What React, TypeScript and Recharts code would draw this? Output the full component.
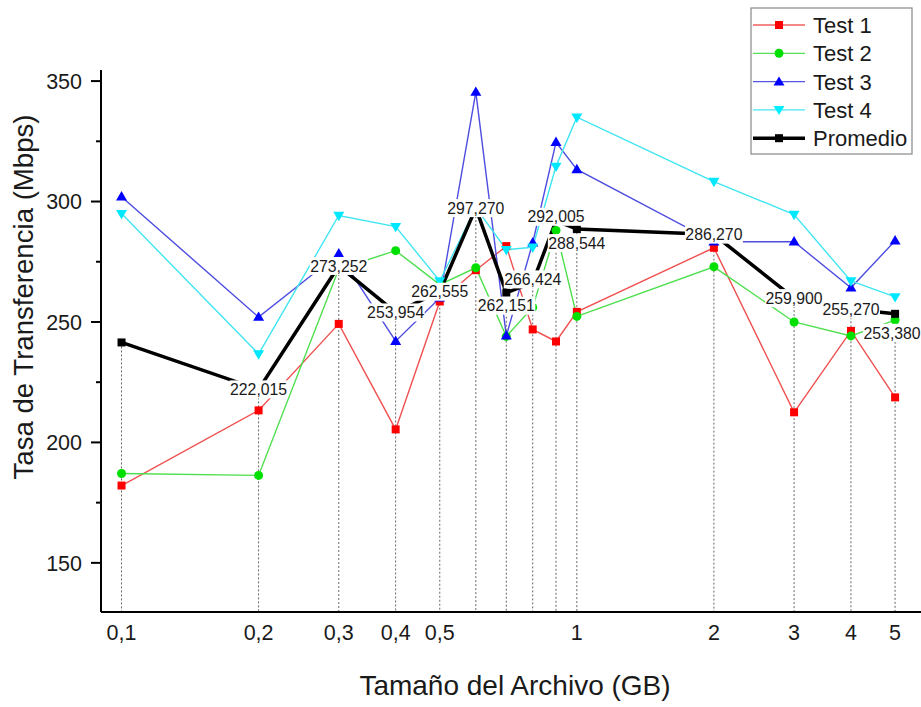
import { LineChart, Line, XAxis, YAxis } from "recharts"

// file sizes in GB (log axis)
const sizes = [0.1, 0.2, 0.3, 0.4, 0.5, 0.6, 0.7, 0.8, 0.9, 1, 2, 3, 4, 5]

const test1 = [182.1, 213.3, 249.2, 205.4, 258.5, 271.5, 281.5, 246.9, 241.9, 254.2, 280.8, 212.5, 246.3, 218.7]
const test2 = [187.1, 186.3, 272.0, 279.6, 265.5, 272.5, 244.0, 256.0, 288.0, 252.3, 272.9, 250.0, 244.2, 250.8]
const test3 = [302.0, 252.0, 278.3, 242.0, 260.0, 345.4, 244.2, 282.9, 324.6, 313.3, 283.3, 283.3, 264.2, 283.7]
const test4 = [295.0, 236.7, 294.2, 289.6, 267.0, 297.5, 280.0, 281.0, 314.6, 335.0, 308.3, 294.6, 267.0, 260.4]
const promedio = [241.5, 222.015, 273.252, 253.954, 262.555, 297.27, 262.151, 266.424, 292.005, 288.544, 286.27, 259.9, 255.27, 253.38]

const xTicks = [0.1, 0.2, 0.3, 0.4, 0.5, 1, 2, 3, 4, 5]
const yTicks = [150, 175, 200, 225, 250, 275, 300, 325, 350]

const data = sizes.map((x, i) => ({
  x,
  t1: test1[i],
  t2: test2[i],
  t3: test3[i],
  t4: test4[i],
  avg: promedio[i],
}))

const W = 921
const H = 707
const PLOT_BOTTOM = 612
const FONT = '"Liberation Sans", Arial, sans-serif'

// nudges for labels that were moved off their point in the original
const labelShift: Record<number, [number, number]> = {
  6: [0, 13],
  7: [0, -3],
  8: [0, -4],
  9: [0, 14],
  13: [-3, 19],
}

const fmt = (v: number) => v.toFixed(3).replace(".", ",")

const square = (color: string, s = 8) => (p: any) => {
  if (p.cx == null || p.cy == null) return <g key={p.index} />
  return <rect key={p.index} x={p.cx - s / 2} y={p.cy - s / 2} width={s} height={s} fill={color} />
}

const circle = (color: string, r = 4.5) => (p: any) => {
  if (p.cx == null || p.cy == null) return <g key={p.index} />
  return <circle key={p.index} cx={p.cx} cy={p.cy} r={r} fill={color} />
}

const triangle = (color: string, up: boolean, s = 11) => (p: any) => {
  if (p.cx == null || p.cy == null) return <g key={p.index} />
  const h = s * 0.85
  const pts = up
    ? `${p.cx},${p.cy - h / 2 - 1} ${p.cx - s / 2},${p.cy + h / 2 - 1} ${p.cx + s / 2},${p.cy + h / 2 - 1}`
    : `${p.cx},${p.cy + h / 2 + 1} ${p.cx - s / 2},${p.cy - h / 2 + 1} ${p.cx + s / 2},${p.cy - h / 2 + 1}`
  return <polygon key={p.index} points={pts} fill={color} />
}

const dropLine = (p: any) => {
  if (p.cx == null || p.cy == null) return <g key={p.index} />
  return (
    <line key={p.index} x1={p.cx} x2={p.cx} y1={p.cy} y2={PLOT_BOTTOM - 1}
      stroke="#666" strokeWidth={1} strokeDasharray="2 2" />
  )
}

const avgLabel = (p: any) => {
  if (p.cx == null || p.cy == null || p.index === 0) return <g key={p.index} />
  const text = fmt(p.value)
  const [dx, dy] = labelShift[p.index] ?? [0, 0]
  const w = 58
  const x = p.cx + dx
  const y = p.cy + dy
  return (
    <g key={p.index}>
      <rect x={x - w / 2} y={y - 9} width={w} height={18} fill="#fff" />
      <text x={x} y={y} dy="0.36em" textAnchor="middle" fontSize={15.8} fill="#1a1a1a" fontFamily={FONT}>
        {text}
      </text>
    </g>
  )
}

const YTick = (props: any) => {
  const { x, y, payload } = props
  const major = payload.value % 50 === 0
  return (
    <g>
      <line x1={x} x2={x - (major ? 10 : 5)} y1={y} y2={y} stroke="#000" strokeWidth={2} />
      {major && (
        <text x={x - 19} y={y} dy="0.36em" textAnchor="end" fontSize={21.5} fill="#1a1a1a" fontFamily={FONT}>
          {payload.value}
        </text>
      )}
    </g>
  )
}

const XTick = (props: any) => {
  const { x, y, payload } = props
  return (
    <text x={x} y={y + 28} textAnchor="middle" fontSize={21.5} fill="#1a1a1a" fontFamily={FONT}>
      {String(payload.value).replace(".", ",")}
    </text>
  )
}

const legendItems = [
  { name: "Test 1", color: "#ff0000", line: "#f06060", width: 1.3, shape: "square" },
  { name: "Test 2", color: "#00e000", line: "#55e055", width: 1.3, shape: "circle" },
  { name: "Test 3", color: "#0000ff", line: "#5555e5", width: 1.3, shape: "up" },
  { name: "Test 4", color: "#00eeff", line: "#44e8f5", width: 1.3, shape: "down" },
  { name: "Promedio", color: "#000", line: "#000", width: 3.5, shape: "square" },
]

function Legend() {
  return (
    <svg width={163} height={148} style={{ position: "absolute", left: 750, top: 7 }}>
      <rect x={1} y={1} width={161} height={146} fill="#fff" stroke="#888" strokeWidth={1.2} />
      {legendItems.map((it, i) => {
        const cy = 18 + i * 28.3
        const cx = 29
        let mark
        if (it.shape === "square") mark = <rect x={cx - 4} y={cy - 4} width={8} height={8} fill={it.color} />
        else if (it.shape === "circle") mark = <circle cx={cx} cy={cy} r={4.5} fill={it.color} />
        else if (it.shape === "up") mark = <polygon points={`${cx},${cy - 5} ${cx - 5.5},${cy + 4} ${cx + 5.5},${cy + 4}`} fill={it.color} />
        else mark = <polygon points={`${cx},${cy + 5} ${cx - 5.5},${cy - 4} ${cx + 5.5},${cy - 4}`} fill={it.color} />
        return (
          <g key={it.name}>
            <line x1={3} x2={55} y1={cy} y2={cy} stroke={it.line} strokeWidth={it.width} />
            {mark}
            <text x={63} y={cy} dy="0.36em" fontSize={22} fill="#1a1a1a" fontFamily={FONT}>{it.name}</text>
          </g>
        )
      })}
    </svg>
  )
}

export default function App() {
  return (
    <div style={{ position: "absolute", left: 0, top: 0, width: W, height: H, background: "#fff", overflow: "hidden", fontFamily: FONT }}>
      <LineChart width={W} height={H} data={data} margin={{ top: 70, right: 0, left: 0, bottom: 0 }}>
        <XAxis
          dataKey="x"
          type="number"
          scale="log"
          domain={[0.09014, 5.7]}
          allowDataOverflow
          ticks={xTicks}
          interval={0}
          height={95}
          tickLine={false}
          tickSize={0}
          tickMargin={0}
          axisLine={{ stroke: "#000", strokeWidth: 2 }}
          tick={<XTick />}
          label={{ value: "Tamaño del Archivo (GB)", content: () => (
            <text x={515} y={695} textAnchor="middle" fontSize={28} fill="#1a1a1a" fontFamily={FONT}>
              Tamaño del Archivo (GB)
            </text>
          ) }}
        />
        <YAxis
          type="number"
          domain={[129.6, 354.6]}
          allowDataOverflow
          ticks={yTicks}
          interval={0}
          width={101}
          tickLine={false}
          tickSize={0}
          tickMargin={0}
          axisLine={{ stroke: "#000", strokeWidth: 2 }}
          tick={<YTick />}
          label={{ value: "Tasa de Transferencia (Mbps)", content: () => (
            <text x={33} y={297} transform="rotate(-90, 33, 297)" textAnchor="middle" fontSize={27.6} fill="#1a1a1a" fontFamily={FONT}>
              Tasa de Transferencia (Mbps)
            </text>
          ) }}
        />
        <Line dataKey="avg" stroke="none" dot={dropLine} activeDot={false} isAnimationActive={false} legendType="none" />
        <Line dataKey="t1" type="linear" stroke="#f05050" strokeWidth={1.4} dot={square("#ff0000")} activeDot={false} isAnimationActive={false} />
        <Line dataKey="t2" type="linear" stroke="#4ddf4d" strokeWidth={1.4} dot={circle("#00e000")} activeDot={false} isAnimationActive={false} />
        <Line dataKey="t3" type="linear" stroke="#4d4de0" strokeWidth={1.4} dot={triangle("#0000ff", true)} activeDot={false} isAnimationActive={false} />
        <Line dataKey="t4" type="linear" stroke="#40e5f2" strokeWidth={1.4} dot={triangle("#00e8ff", false)} activeDot={false} isAnimationActive={false} />
        <Line dataKey="avg" type="linear" stroke="#000" strokeWidth={3.5} dot={square("#000")} activeDot={false} isAnimationActive={false} />
        <Line dataKey="avg" stroke="none" dot={avgLabel} activeDot={false} isAnimationActive={false} legendType="none" />
      </LineChart>
      <Legend />
    </div>
  )
}
